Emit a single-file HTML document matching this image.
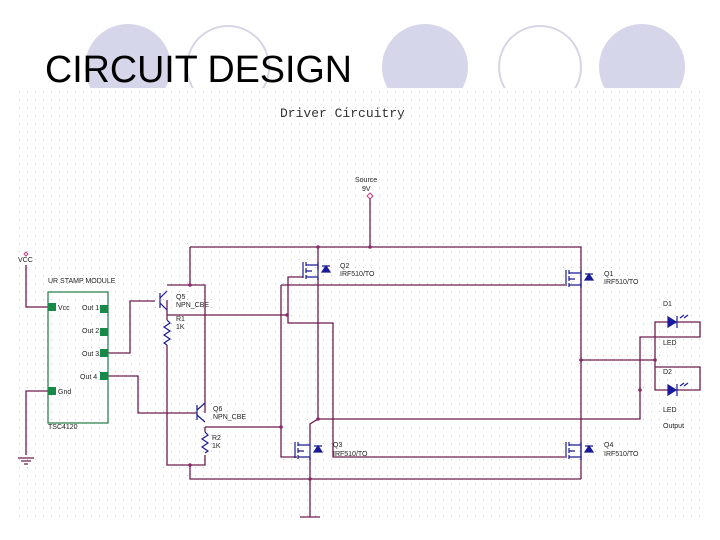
<!DOCTYPE html>
<html><head><meta charset="utf-8"><style>
html,body{margin:0;padding:0;background:#fff;width:720px;height:540px;overflow:hidden}
svg{display:block}
</style></head><body>
<svg width="720" height="540" viewBox="0 0 720 540" xmlns="http://www.w3.org/2000/svg">
<defs>
<pattern id="g" x="0" y="0" width="8" height="8" patternUnits="userSpaceOnUse">
<rect x="3" y="3" width="1" height="1" fill="#c8c8d0"/>
</pattern>
</defs>
<rect width="720" height="540" fill="#fff"/>
<circle cx="128" cy="67" r="43" fill="#d6d6ea"/>
<circle cx="228" cy="67" r="41" fill="none" stroke="#d6d6e6" stroke-width="2"/>
<circle cx="425" cy="67" r="43" fill="#d6d6ea"/>
<circle cx="540" cy="67" r="41" fill="none" stroke="#d6d6e6" stroke-width="2"/>
<circle cx="642" cy="67" r="43" fill="#d6d6ea"/>
<rect x="14" y="88" width="692" height="434" fill="#fff"/>
<rect x="14" y="88" width="692" height="434" fill="url(#g)"/>
<text x="45" y="82" font-family="Liberation Sans, sans-serif" font-size="38" textLength="307" lengthAdjust="spacingAndGlyphs" fill="#000">CIRCUIT DESIGN</text>
<text x="280" y="117" font-family="Liberation Mono, monospace" font-size="13" fill="#333">Driver Circuitry</text>

<g font-family="Liberation Sans, sans-serif" font-size="7" fill="#222">
<text x="355" y="182">Source</text><text x="362" y="191">9V</text>
<text x="18" y="262">VCC</text>
<text x="48" y="283">UR STAMP MODULE</text>
<text x="48" y="429">TSC4120</text>
<text x="58" y="310">Vcc</text><text x="82" y="310">Out 1</text>
<text x="82" y="333">Out 2</text><text x="82" y="356">Out 3</text>
<text x="80" y="379">Out 4</text><text x="58" y="394">Gnd</text>
<text x="176" y="299">Q5</text><text x="176" y="307">NPN_CBE</text>
<text x="176" y="321">R1</text><text x="176" y="329">1K</text>
<text x="213" y="411">Q6</text><text x="213" y="419">NPN_CBE</text>
<text x="212" y="440">R2</text><text x="212" y="448">1K</text>
<text x="340" y="268">Q2</text><text x="340" y="276">IRF510/TO</text>
<text x="604" y="276">Q1</text><text x="604" y="284">IRF510/TO</text>
<text x="333" y="447">Q3</text><text x="333" y="456">IRF510/TO</text>
<text x="604" y="447">Q4</text><text x="604" y="456">IRF510/TO</text>
<text x="663" y="306">D1</text><text x="663" y="345">LED</text>
<text x="663" y="374">D2</text><text x="663" y="412">LED</text>
<text x="663" y="428">Output</text>
</g>

<g stroke="#6e1d4e" stroke-width="1.3" fill="none">
<path d="M370 198V247M190 247H581V479M190 247V285M167 285H205V413"/>
<path d="M167 300V315H287M167 315V320M167 345V465H205V455M205 427V432M190 465V479H581M310 479V517M300 517H320"/>
<path d="M205 427H281M281 285V457H297M281 285H565"/>
<path d="M303 277H288V323H333V457H565"/>
<path d="M318 247V270M318 278V419L310 424V442M318 419H640V337H700V322H655V390H700V367H655M581 360H655M640 390V337"/>
<path d="M310 458V479"/>
<path d="M26 265V307H48M48 391H26V455M18 458H34M21 461H31M24 464H28"/>
<path d="M108 353H130V301H155M108 376H138V413H197"/>
</g>
<g fill="#8a2a6a">
<circle cx="318" cy="247" r="1.8"/><circle cx="370" cy="247" r="1.8"/><circle cx="190" cy="285" r="1.8"/>
<circle cx="287" cy="315" r="1.8"/><circle cx="281" cy="427" r="1.8"/><circle cx="318" cy="419" r="1.8"/>
<circle cx="190" cy="465" r="1.8"/><circle cx="310" cy="479" r="1.8"/><circle cx="581" cy="360" r="1.8"/>
<circle cx="655" cy="360" r="1.8"/><circle cx="640" cy="390" r="1.8"/>
</g>
<path d="M370 193l3 3-3 3-3-3z" fill="none" stroke="#c04080"/>
<path d="M26 252l2 2-2 2-2-2z" fill="none" stroke="#c04080"/>

<rect x="48" y="292" width="60" height="131" fill="none" stroke="#207a40" stroke-width="1.2"/>
<g fill="#178a4a">
<rect x="48" y="303" width="8" height="8"/><rect x="48" y="387" width="8" height="8"/>
<rect x="100" y="305" width="8" height="8"/><rect x="100" y="328" width="8" height="8"/>
<rect x="100" y="349" width="8" height="8"/><rect x="100" y="372" width="8" height="8"/>
</g>

<g stroke="#1a1a90" stroke-width="1.2" fill="none">
<path d="M160 293V308M160 298L167 291M160 303L167 310"/>
<path d="M197 405V420M197 410L205 403M197 415L205 422"/>
<path d="M167 320l3 3-6 4 6 4-6 4 6 4-6 4 3 2"/>
<path d="M205 432l3 3-6 4 6 4-6 4 6 4-3 2"/>
</g>

<g stroke="#1a1a90" stroke-width="1.2" fill="none">
<g id="m1"><path d="M303 262V278M306 262V266M306 268V273M306 275V279M306 265H318M306 277H318M318 262V280M306 271H312"/><path d="M322 266H330M326 266l-4 6h8z" fill="#1a1aa0"/></g>
<use href="#m1" x="263" y="8"/>
<use href="#m1" x="-8" y="180"/>
<use href="#m1" x="263" y="180"/>
</g>
<g stroke="#1a1aa0" fill="#1a1aa0" stroke-width="1.2">
<path d="M668 317v10l8-5z"/><path d="M677 316v12M680 318l4-3M684 318l4-3" fill="none"/>
<path d="M668 385v10l8-5z"/><path d="M677 384v12M680 386l4-3M684 386l4-3" fill="none"/>
</g>
</svg>
</body></html>
